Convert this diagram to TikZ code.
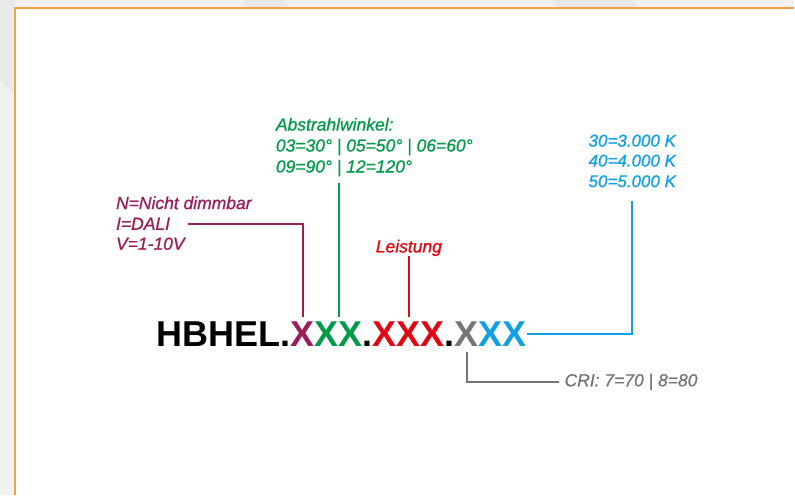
\documentclass[tikz,border=0pt]{standalone}
\usepackage{fontspec}
\setmainfont{Liberation Sans}
\usetikzlibrary{positioning}

\definecolor{hbpurple}{RGB}{155,30,92}
\definecolor{hbgreen}{RGB}{0,155,72}
\definecolor{hbred}{RGB}{227,6,19}
\definecolor{hbgrey}{RGB}{118,118,118}
\definecolor{hbblue}{RGB}{18,160,226}
\definecolor{hborange}{RGB}{246,160,70}
\definecolor{hbback}{RGB}{240,241,240}
\definecolor{hbstripe}{RGB}{233,233,233}

\begin{document}
\begin{tikzpicture}[
    x = 1pt, y = 1pt, % one unit = one pixel
    code/.style = {inner sep = 0pt, outer xsep = 0pt, outer ysep = 5pt,
                   anchor = base west,
                   font = \fontsize{36}{40}\selectfont\bfseries},
    lab/.style = {inner sep = 0pt, anchor = base west,
                  font = \fontsize{#1}{21}\selectfont\itshape\addfontfeature{FakeBold=0.8}},
    lab/.default = 17.5,
    conn/.style = {line width = 2pt} % connector lines
    ]

    % background and frame
    \fill[hbback] (0,0) rectangle (795,496);
    \fill[hbstripe] (243,496) -- (284,496) -- (289,488) -- (248,488) -- cycle;
    \fill[hbstripe] (553,496) -- (634,496) -- (639,488) -- (558,488) -- cycle;
    \fill[hbstripe] (0,496) -- (15,496) -- (15,401) -- (0,416) -- cycle;
    \fill[white] (15,0) rectangle (795,488);
    \draw[hborange, line width = 1.6pt] (15,0) -- (15,488) -- (795,488);
    \useasboundingbox (0,0) rectangle (795,496);

    % article code
    \node[code] (pre) at (157,149) {HBHEL.};
    \node[code, text = hbpurple] (dim) at (pre.base east) {X};
    \node[code, text = hbgreen] (beam) at (dim.base east) {XX};
    \node[code] (dota) at (beam.base east) {.};
    \node[code, text = hbred] (power) at (dota.base east) {XXX};
    \node[code] (dotb) at (power.base east) {.};
    \node[code, text = hbgrey] (cri) at (dotb.base east) {X};
    \node[code, text = hbblue] (cct) at (cri.base east) {XX};

    % labels
    \node[lab, text = hbpurple] (dimA) at (116,286.7) {N=Nicht dimmbar};
    \node[lab, text = hbpurple] (dimB) at (116,266) {I=DALI};
    \node[lab, text = hbpurple] (dimC) at (116,246) {V=1-10V};

    \node[lab, text = hbgreen] (beamA) at (276,365.3) {Abstrahlwinkel:};
    \node[lab, text = hbgreen] (beamB) at (276,344.3) {03=30° | 05=50° | 06=60°};
    \node[lab, text = hbgreen] (beamC) at (276,323.3) {09=90° | 12=120°};

    \node[lab, text = hbred] (leist) at (376,243.3) {Leistung};

    \node[lab=17, text = hbblue] (cctA) at (589,349.3) {30=3.000 K};
    \node[lab=17, text = hbblue] (cctB) at (589,329.3) {40=4.000 K};
    \node[lab=17, text = hbblue] (cctC) at (589,308.7) {50=5.000 K};

    \node[lab, text = hbgrey] (crilab) at (565,109.3) {CRI: 7=70 | 8=80};

    % connectors
    \draw[conn, hbpurple] ([xshift=18pt]dimB.east) -| (dim.north);
    \draw[conn, hbgreen] (beam.north) -- ([yshift=-6pt]beam.north |- beamC.south);
    \draw[conn, hbred] (power.north) -- (power.north |- leist.south);
    \draw[conn, hbgrey] (cri.south) |- ([xshift=-5pt]crilab.west);
    \draw[conn, hbblue] (cct.east) -| ([yshift=-14pt]cctC.south);
\end{tikzpicture}
\end{document}
